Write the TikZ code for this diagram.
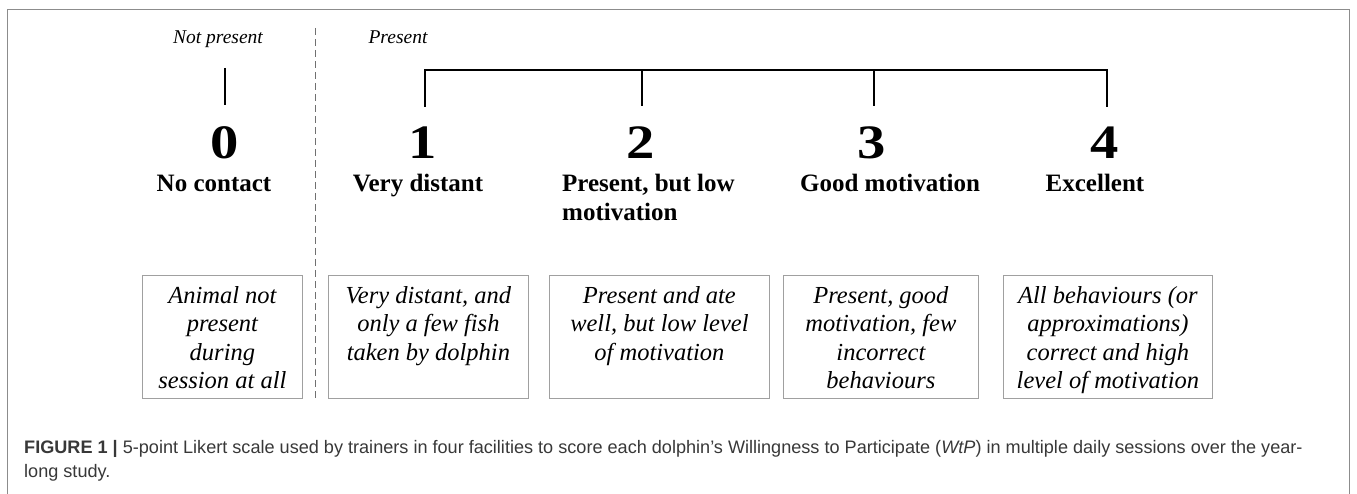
\documentclass[tikz,border=0pt]{standalone}
\usepackage{fontspec}
\setmainfont{Liberation Serif}
\setsansfont{Liberation Sans}
\usepackage{graphicx}
\definecolor{framegray}{HTML}{8C8C8C}
\definecolor{boxgray}{HTML}{A0A0A0}
\definecolor{capgray}{HTML}{383838}
\definecolor{dashgray}{HTML}{707070}
\newcommand{\wide}[1]{\scalebox{1.18}[1]{#1}}
\tikzset{
  tick/.style={line width=1.6pt, black},
  bignum/.style={font=\bfseries\fontsize{48}{52}\selectfont, inner sep=0pt, anchor=base},
  lab/.style={font=\bfseries\fontsize{25}{29}\selectfont, inner sep=0pt, anchor=base},
  headlab/.style={font=\itshape\fontsize{19.5}{22}\selectfont, inner sep=0pt, anchor=base},
  descbox/.style={draw=boxgray, line width=0.8pt, inner sep=0pt, anchor=north west},
  desctext/.style={font=\itshape\fontsize{24.5}{28.5}\selectfont, align=center, inner sep=0pt, anchor=north},
  captext/.style={anchor=base west, inner sep=0pt, text=capgray, font=\sffamily\fontsize{18.1}{22}\selectfont},
}
\begin{document}
\begin{tikzpicture}[x=1pt,y=-1pt]
\useasboundingbox (0,0) rectangle (1357,494);
% outer frame
\draw[framegray, line width=1pt] (7,500) -- (7,10) -- (1349,10) -- (1349,500);
% headers
\node[headlab] (np) at (218,44) {Not present};
\node[headlab] (pr) at (398,44) {Present};
% dashed separator
\coordinate (dtop) at (315,28);
\coordinate (dbot) at (315,398);
\draw[dashgray, line width=1pt, dash pattern=on 7pt off 4pt] (dtop) -- (dbot);
% numbers
\node[bignum] (n0) at (225,159) {\wide{0}};
\node[bignum] (n1) at (423,159) {\wide{1}};
\node[bignum] (n2) at (641,159) {\wide{2}};
\node[bignum] (n3) at (872,159) {\wide{3}};
\node[bignum] (n4) at (1105,159) {\wide{4}};
% ticks
\coordinate (t0) at (225,68);
\coordinate (b0) at (225,105);
\coordinate (t1) at (425,70);
\coordinate (b1) at (425,106);
\coordinate (t2) at (642,70);
\coordinate (b2) at (642,106);
\coordinate (t3) at (874,70);
\coordinate (b3) at (874,106);
\coordinate (t4) at (1107,70);
\coordinate (b4) at (1107,106);
\draw[tick] (t0) -- (b0);
\draw[tick, line cap=rect] (b1) -- (t1) -- (t4) -- (b4);
\draw[tick] (t2) -- (b2);
\draw[tick] (t3) -- (b3);
% labels
\node[lab] (l0) at (214,192) {No contact};
\node[lab] (l1) at (418,192) {Very distant};
\node[lab, anchor=north west, align=left] (l2) at (562,174) {Present, but low\\motivation};
\node[lab] (l3) at (890,192) {Good motivation};
\node[lab] (l4) at (1095,192) {Excellent};
% boxes
\node[descbox, minimum width=160pt, minimum height=123pt] (box0) at (142,275) {};
\node[descbox, minimum width=200pt, minimum height=123pt] (box1) at (328,275) {};
\node[descbox, minimum width=220pt, minimum height=123pt] (box2) at (549,275) {};
\node[descbox, minimum width=195pt, minimum height=123pt] (box3) at (783,275) {};
\node[descbox, minimum width=209pt, minimum height=123pt] (box4) at (1003,275) {};
\node[desctext] (d0) at ([yshift=-11pt]box0.north) {Animal not\\present\\during\\session at all};
\node[desctext] (d1) at ([yshift=-11pt]box1.north) {Very distant, and\\only a few fish\\taken by dolphin};
\node[desctext] (d2) at ([yshift=-11pt]box2.north) {Present and ate\\well, but low level\\of motivation};
\node[desctext] (d3) at ([yshift=-11pt]box3.north) {Present, good\\motivation, few\\incorrect\\behaviours};
\node[desctext] (d4) at ([yshift=-11pt]box4.north) {All behaviours (or\\approximations)\\correct and high\\level of motivation};
% caption
\node[captext] (cap1) at (24,453)
  {\textbf{FIGURE 1} \textbf{|} 5-point Likert scale used by trainers in four facilities to score each dolphin’s Willingness to Participate (\textit{WtP}) in multiple daily sessions over the year-};
\node[captext] (cap2) at (24,477) {long study.};
\end{tikzpicture}
\end{document}
